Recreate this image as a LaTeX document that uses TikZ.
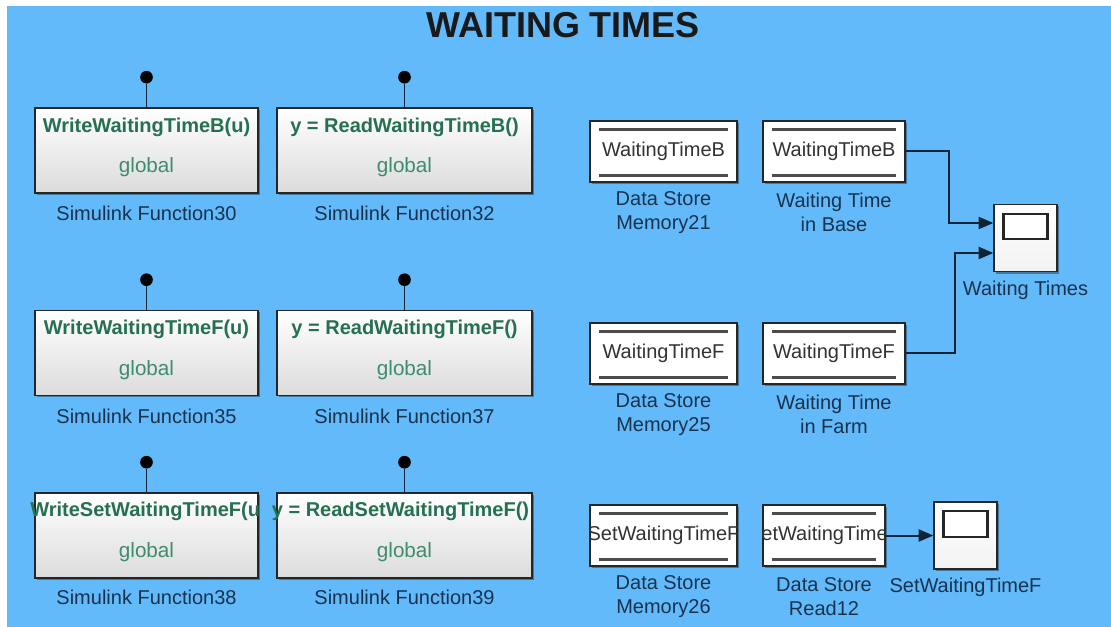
\documentclass[tikz,border=0pt]{standalone}
\usepackage{fontspec}
\setmainfont{Liberation Sans}
\usetikzlibrary{arrows.meta,shadows,calc}
\definecolor{bg}{RGB}{99,186,250}
\definecolor{fgreen}{RGB}{38,112,82}
\definecolor{gglobal}{RGB}{62,140,110}
\definecolor{lblue}{RGB}{24,50,78}
\definecolor{dstext}{RGB}{50,50,50}
\definecolor{wirec}{RGB}{15,35,55}
\begin{document}
\begin{tikzpicture}[x=0.75pt,y=-0.75pt,
  sfblock/.style={draw=black!85, line width=1.2pt, top color=white, bottom color=black!14,
     minimum width=#1, minimum height=63.75pt, inner sep=0pt,
     drop shadow={shadow xshift=1.5pt, shadow yshift=-1.5pt, fill=black, opacity=0.35}},
  dsblock/.style={draw=black!85, line width=1.2pt, fill=white,
     minimum width=#1, minimum height=45.75pt, inner sep=0pt,
     drop shadow={shadow xshift=1.5pt, shadow yshift=-1.5pt, fill=black, opacity=0.35}},
  scopeblock/.style={draw=black!85, line width=1.2pt, top color=white, bottom color=black!5,
     minimum width=47pt, minimum height=50.5pt, inner sep=0pt,
     drop shadow={shadow xshift=1.5pt, shadow yshift=-1.5pt, fill=black, opacity=0.35}},
  screen/.style={draw=black!85, line width=1.6pt, fill=white, minimum width=33pt, minimum height=19pt, inner sep=0pt},
  fname/.style={text=fgreen, font=\fontsize{15}{18}\selectfont\bfseries, inner sep=0pt},
  glob/.style={text=gglobal, font=\fontsize{15.5}{18}\selectfont, inner sep=0pt},
  lbl/.style={text=lblue, font=\fontsize{15}{18}\selectfont, align=center, inner sep=0pt},
  dstxt/.style={text=dstext, font=\fontsize{15}{18}\selectfont, inner sep=0pt},
  pindot/.style={circle, fill=black, minimum size=9.5pt, inner sep=0pt},
  pinline/.style={line width=1.4pt, draw=wirec},
  dsline/.style={line width=2pt, draw=black!70},
  wire/.style={line width=1.5pt, draw=wirec, -{Triangle[length=11pt,width=9pt]}}
]
\useasboundingbox (0,0) rectangle (1111,627);
\fill[white] (0,0) rectangle (1111,627);
\fill[bg] (7,6) rectangle (1111,627);

\node[font=\fontsize{27}{30}\selectfont\bfseries, text=black!90] (title) at (563,25) {WAITING TIMES};

% ---- Simulink function blocks ----
\foreach \r/\cy/\la/\lb/\fa/\fb in {
  1/150.5/WriteWaitingTimeB(u)/{y = ReadWaitingTimeB()}/30/32,
  2/353/WriteWaitingTimeF(u)/{y = ReadWaitingTimeF()}/35/37}{
  \node[sfblock=167.25pt] (sfA\r) at (146.5,\cy) {};
  \node[sfblock=191.25pt] (sfB\r) at (404.5,\cy) {};
  \node[fname] (fA\r) at ($(sfA\r.north)+(0,20)$) {\la};
  \node[fname] (fB\r) at ($(sfB\r.north)+(0,20)$) {\lb};
  \node[glob] (gA\r) at ($(sfA\r.north)+(0,60)$) {global};
  \node[glob] (gB\r) at ($(sfB\r.north)+(0,60)$) {global};
  \node[pindot] (pA\r) at ($(sfA\r.north)+(0,-30)$) {};
  \node[pindot] (pB\r) at ($(sfB\r.north)+(0,-30)$) {};
  \draw[pinline] (pA\r) -- (sfA\r.north);
  \draw[pinline] (pB\r) -- (sfB\r.north);
  \node[lbl] (lA\r) at ($(sfA\r.south)+(0,20)$) {Simulink Function\fa};
  \node[lbl] (lB\r) at ($(sfB\r.south)+(0,20)$) {Simulink Function\fb};
}

% row 3
\node[sfblock=167.25pt] (sfA3) at (146.5,535.5) {};
\node[sfblock=191.25pt] (sfB3) at (404.5,535.5) {};
\begin{scope}
  \clip ($(sfA3.north west)+(-12,0)$) rectangle ($(sfA3.north east)+(1,40)$);
  \node[fname] (fA3) at ($(sfA3.north)+(2,19)$) {WriteSetWaitingTimeF(u)};
\end{scope}
\begin{scope}
  \clip ($(sfB3.north west)+(-10,0)$) rectangle ($(sfB3.north east)+(-3,40)$);
  \node[fname] (fB3) at ($(sfB3.north)+(-4,19)$) {y = ReadSetWaitingTimeF()};
\end{scope}
\node[glob] (gA3) at ($(sfA3.north)+(0,60)$) {global};
\node[glob] (gB3) at ($(sfB3.north)+(0,60)$) {global};
\node[pindot] (pA3) at ($(sfA3.north)+(0,-30)$) {};
\node[pindot] (pB3) at ($(sfB3.north)+(0,-30)$) {};
\draw[pinline] (pA3) -- (sfA3.north);
\draw[pinline] (pB3) -- (sfB3.north);
\node[lbl] (lA3) at ($(sfA3.south)+(0,19)$) {Simulink Function38};
\node[lbl] (lB3) at ($(sfB3.south)+(0,19)$) {Simulink Function39};

% ---- data store blocks ----
\node[dsblock=110.25pt] (m21) at (663.5,151.5) {};
\node[dsblock=106.5pt] (r1) at (834,151.5) {};
\node[dsblock=110.25pt] (m25) at (663.5,353.5) {};
\node[dsblock=106.5pt] (r2) at (834,353.5) {};
\node[dsblock=110.25pt] (m26) at (663.5,535.5) {};
\node[dsblock=91.5pt] (r3) at (824,535.5) {};
\foreach \b in {m21,r1,m25,r2,m26,r3}{
  \draw[dsline] ($(\b.north west)+(10,9)$) -- ($(\b.north east)+(-10,9)$);
  \draw[dsline] ($(\b.south west)+(10,-7)$) -- ($(\b.south east)+(-10,-7)$);
}
\node[dstxt] (t21) at (m21) {WaitingTimeB};
\node[dstxt] (tr1) at (r1) {WaitingTimeB};
\node[dstxt] (t25) at (m25) {WaitingTimeF};
\node[dstxt] (tr2) at (r2) {WaitingTimeF};
\begin{scope}
  \clip (m26.north west) rectangle (m26.south east);
  \node[dstxt] (t26) at (m26) {SetWaitingTimeF};
\end{scope}
\begin{scope}
  \clip (r3.north west) rectangle (r3.south east);
  \node[dstxt] (tr3) at (r3) {SetWaitingTimeF};
\end{scope}

\node[lbl] (lm21) at ($(m21.south)+(0,30)$) {Data Store\\Memory21};
\node[lbl] (lr1) at ($(r1.south)+(0,30)$) {Waiting Time\\in Base};
\node[lbl] (lm25) at ($(m25.south)+(0,30)$) {Data Store\\Memory25};
\node[lbl] (lr2) at ($(r2.south)+(0,30)$) {Waiting Time\\in Farm};
\node[lbl] (lm26) at ($(m26.south)+(0,30)$) {Data Store\\Memory26};
\node[lbl] (lr3) at ($(r3.south)+(0,30)$) {Data Store\\Read12};

% ---- scopes ----
\node[scopeblock] (sc1) at (1025.5,238) {};
\node[screen] (scr1) at ($(sc1.north)+(0,23)$) {};
\node[lbl] (lsc1) at ($(sc1.south)+(0,18)$) {Waiting Times};
\node[scopeblock] (sc2) at (965.5,535.5) {};
\node[screen] (scr2) at ($(sc2.north)+(0,23)$) {};
\node[lbl] (lsc2) at ($(sc2.south)+(0,17)$) {SetWaitingTimeF};

% ---- wires ----
\coordinate (in1) at ($(sc1.west)+(0,-15)$);
\coordinate (in2) at ($(sc1.west)+(0,15)$);
\draw[wire] (r1.east) -- (949,151.5) |- (in1);
\draw[wire] (r2.east) -- (955,353.5) |- (in2);
\draw[wire] (r3.east) -- (sc2.west);
\end{tikzpicture}
\end{document}
